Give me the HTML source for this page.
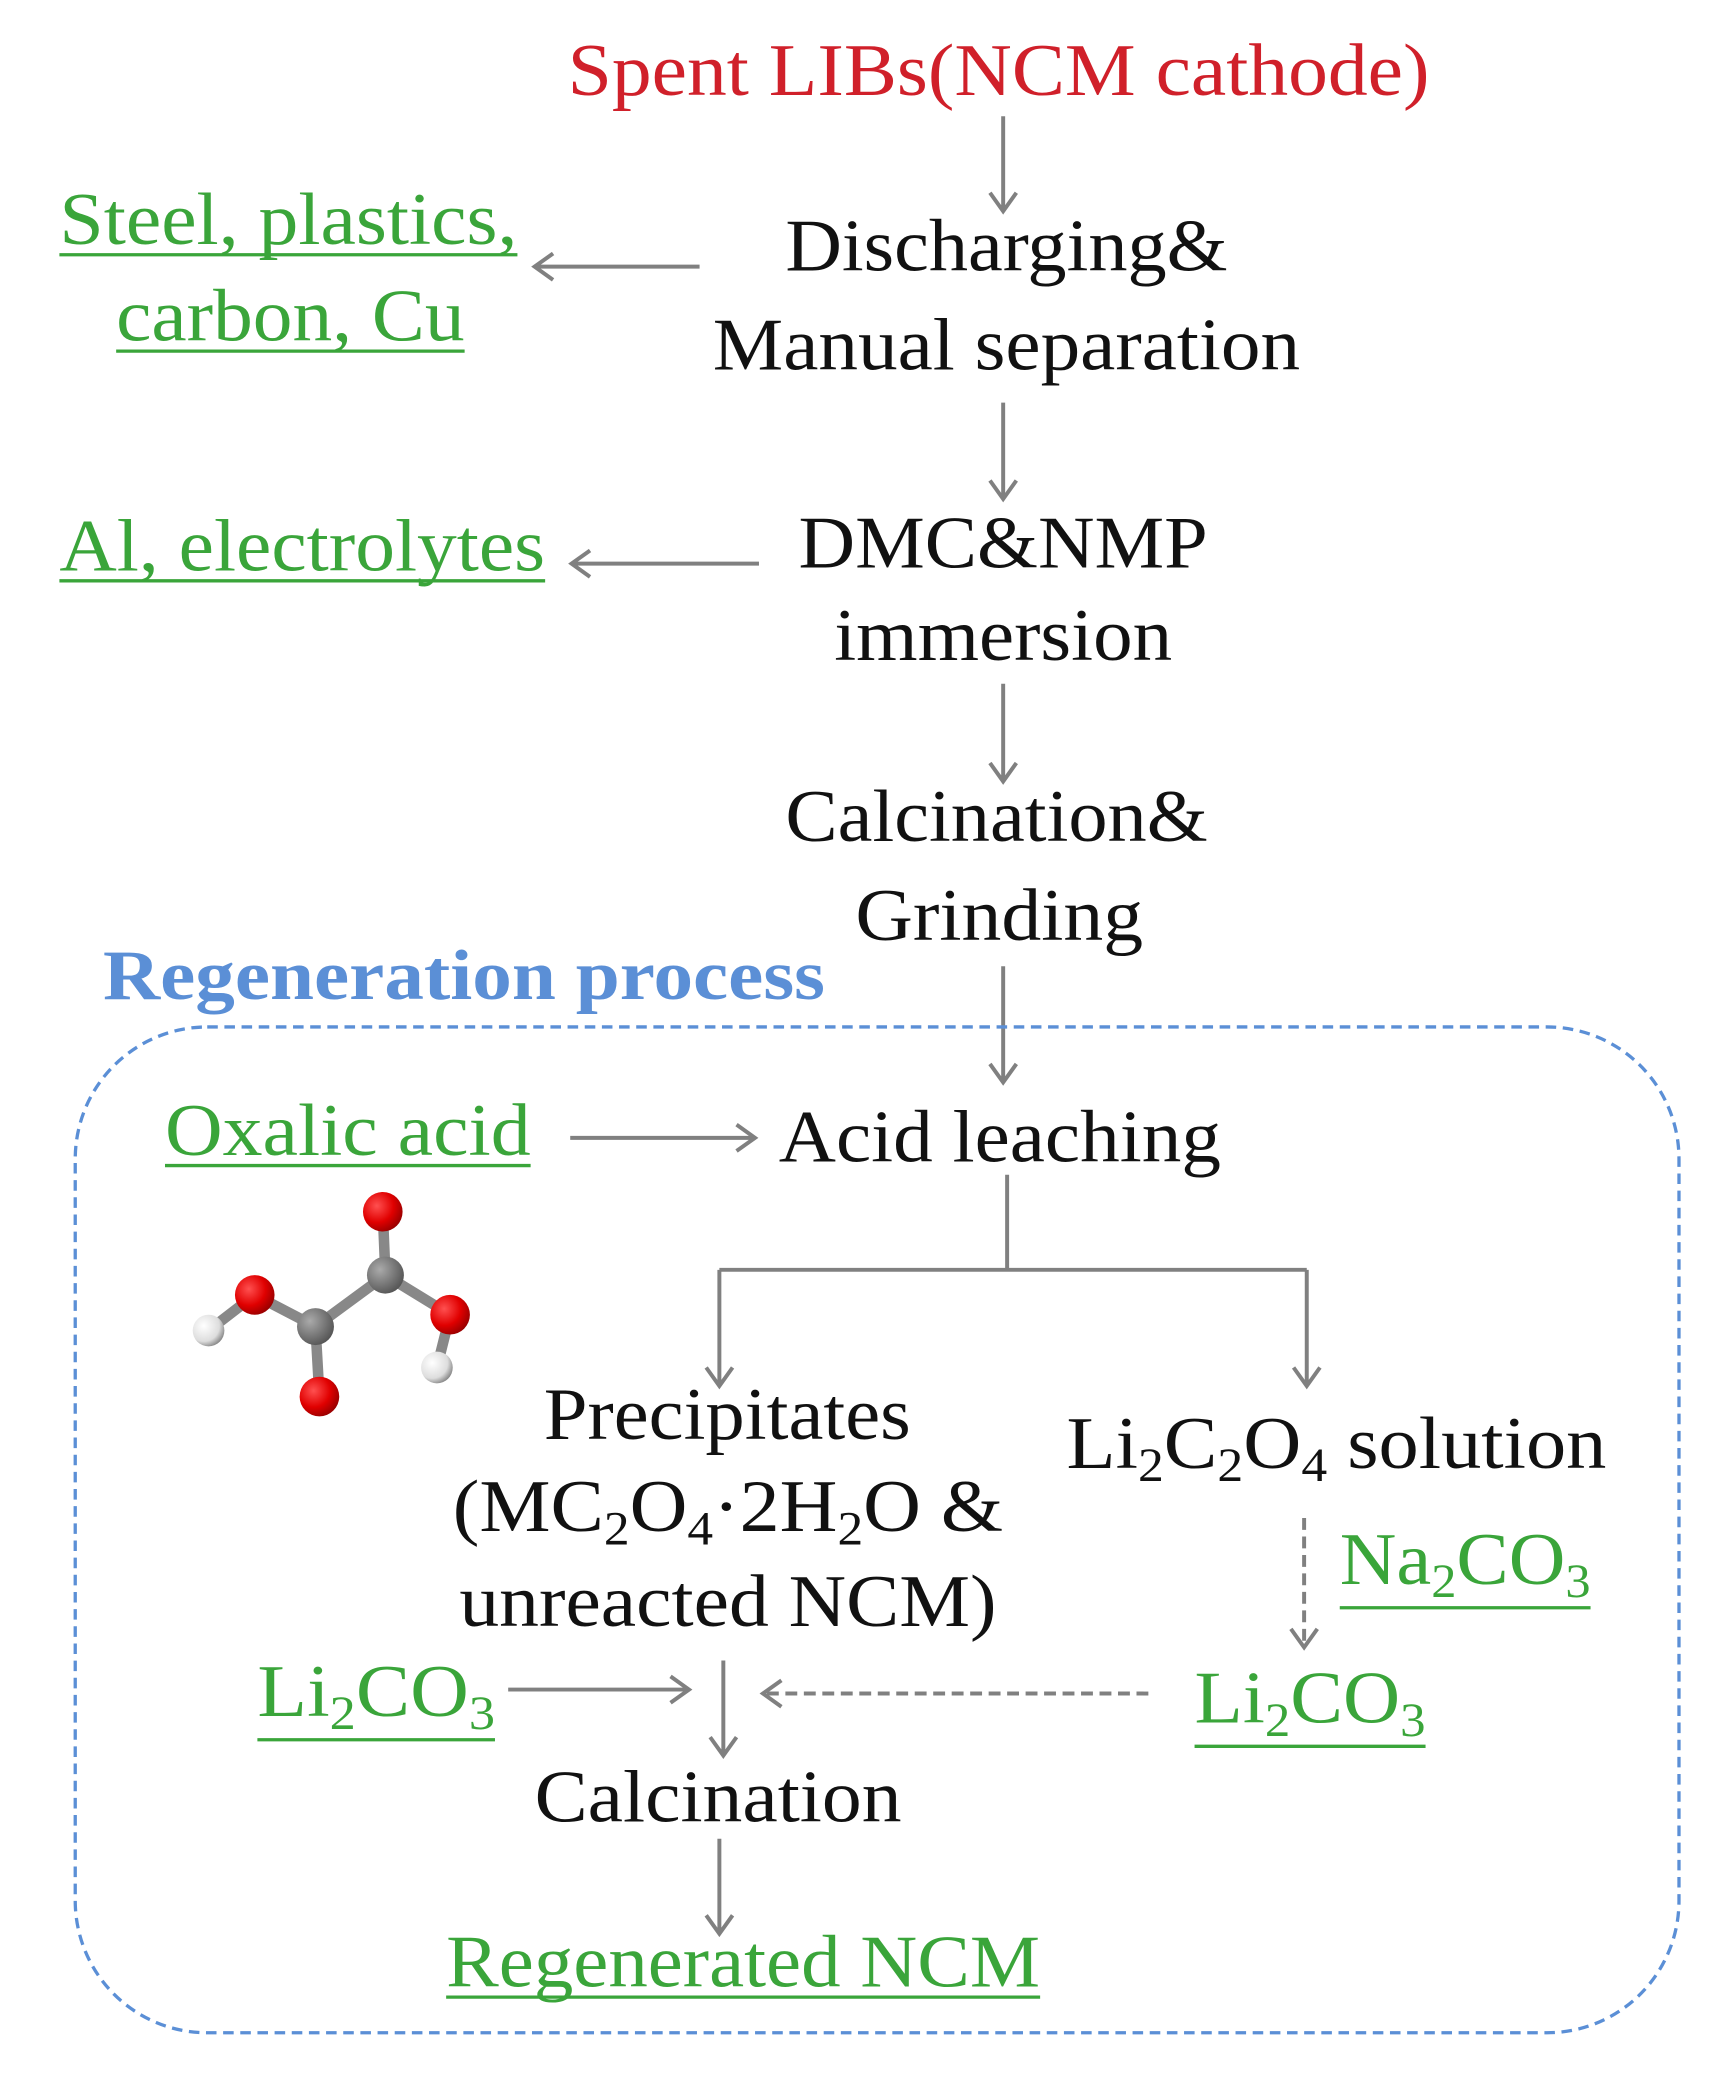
<!DOCTYPE html>
<html><head><meta charset="utf-8"><style>html,body{margin:0;padding:0;background:#fff;}svg{display:block}</style></head>
<body>
<svg width="1717" height="2079" viewBox="0 0 1300.8 1575" xmlns="http://www.w3.org/2000/svg" font-family="Liberation Serif, serif">
<defs>
<radialGradient id="ro" cx="0.35" cy="0.35" r="0.7"><stop offset="0" stop-color="#ff5050"/><stop offset="0.6" stop-color="#e00000"/><stop offset="1" stop-color="#900"/></radialGradient>
<radialGradient id="rc" cx="0.35" cy="0.35" r="0.7"><stop offset="0" stop-color="#aaa"/><stop offset="1" stop-color="#555"/></radialGradient>
<radialGradient id="rh" cx="0.35" cy="0.35" r="0.7"><stop offset="0" stop-color="#fff"/><stop offset="0.7" stop-color="#ddd"/><stop offset="1" stop-color="#888"/></radialGradient>
</defs>
<g stroke="#808080" stroke-width="3" fill="none">
<path d="M760 88V160M750 146L760 160L770 146"/>
<path d="M760 305V378M750 364L760 378L770 364"/>
<path d="M760 518V592M750 578L760 592L770 578"/>
<path d="M760 732V820M750 806L760 820L770 806"/>
<path d="M530 202H405M419 192L405 202L419 212"/>
<path d="M575 427H433M447 417L433 427L447 437"/>
<path d="M432 862H572M558 852L572 862L558 872"/>
<path d="M763 890V962M545 962H990M545 962V1050M990 962V1050M535 1036L545 1050L555 1036M980 1036L990 1050L1000 1036"/>
<path d="M385 1280H522M508 1270L522 1280L508 1290"/>
<path d="M548 1258V1330M538 1316L548 1330L558 1316"/>
<path d="M545 1393V1465M535 1451L545 1465L555 1451"/>
<path d="M870 1283H578" stroke-dasharray="9 5"/>
<path d="M592 1273L578 1283L592 1293"/>
<path d="M988 1150V1248" stroke-dasharray="9 5"/>
<path d="M978 1234L988 1248L998 1234"/>
</g>
<rect x="57" y="778" width="1215" height="762" rx="100" fill="none" stroke="#5b8fd6" stroke-width="2.5" stroke-dasharray="8 5"/>
<g stroke="#888" stroke-width="8" stroke-linecap="round">
<line x1="290" y1="918" x2="292" y2="966"/><line x1="292" y1="966" x2="341" y2="996"/><line x1="341" y1="996" x2="331" y2="1036"/>
<line x1="292" y1="966" x2="239" y2="1005"/><line x1="239" y1="1005" x2="193" y2="981"/><line x1="193" y1="981" x2="158" y2="1008"/><line x1="239" y1="1005" x2="242" y2="1058"/>
</g>
<circle cx="292" cy="966" r="14" fill="url(#rc)"/><circle cx="239" cy="1005" r="14" fill="url(#rc)"/>
<circle cx="290" cy="918" r="15" fill="url(#ro)"/><circle cx="341" cy="996" r="15" fill="url(#ro)"/><circle cx="193" cy="981" r="15" fill="url(#ro)"/><circle cx="242" cy="1058" r="15" fill="url(#ro)"/>
<circle cx="331" cy="1036" r="12" fill="url(#rh)"/><circle cx="158" cy="1008" r="12" fill="url(#rh)"/>
<g font-size="56" fill="#111" lengthAdjust="spacingAndGlyphs">
<text x="430" y="72" fill="#d0202a" textLength="653" lengthAdjust="spacingAndGlyphs">Spent LIBs(NCM cathode)</text>
<text x="595" y="205" textLength="335" lengthAdjust="spacingAndGlyphs">Discharging&amp;</text>
<text x="540" y="280" textLength="445" lengthAdjust="spacingAndGlyphs">Manual separation</text>
<text x="605" y="430" textLength="310" lengthAdjust="spacingAndGlyphs">DMC&amp;NMP</text>
<text x="632" y="500" textLength="256" lengthAdjust="spacingAndGlyphs">immersion</text>
<text x="595" y="637" textLength="320" lengthAdjust="spacingAndGlyphs">Calcination&amp;</text>
<text x="648" y="712" textLength="218" lengthAdjust="spacingAndGlyphs">Grinding</text>
<text x="590" y="880" textLength="335" lengthAdjust="spacingAndGlyphs">Acid leaching</text>
<text x="412" y="1090" textLength="278" lengthAdjust="spacingAndGlyphs">Precipitates</text>
<text x="343" y="1160" textLength="417" lengthAdjust="spacingAndGlyphs">(MC<tspan font-size="36" dy="10">2</tspan><tspan dy="-10">O</tspan><tspan font-size="36" dy="10">4</tspan><tspan dy="-10">·2H</tspan><tspan font-size="36" dy="10">2</tspan><tspan dy="-10">O &amp;</tspan></text>
<text x="348" y="1232" textLength="407" lengthAdjust="spacingAndGlyphs">unreacted NCM)</text>
<text x="808" y="1112" textLength="409" lengthAdjust="spacingAndGlyphs">Li<tspan font-size="36" dy="10">2</tspan><tspan dy="-10">C</tspan><tspan font-size="36" dy="10">2</tspan><tspan dy="-10">O</tspan><tspan font-size="36" dy="10">4</tspan><tspan dy="-10"> solution</tspan></text>
<text x="405" y="1380" textLength="278" lengthAdjust="spacingAndGlyphs">Calcination</text>
</g>
<g font-size="56" fill="#3aa53a">
<text x="45" y="185" textLength="347" lengthAdjust="spacingAndGlyphs">Steel, plastics,</text>
<text x="88" y="258" textLength="264" lengthAdjust="spacingAndGlyphs">carbon, Cu</text>
<text x="45" y="432" textLength="368" lengthAdjust="spacingAndGlyphs">Al, electrolytes</text>
<text x="125" y="875" textLength="277" lengthAdjust="spacingAndGlyphs">Oxalic acid</text>
<text x="1015" y="1200" textLength="190" lengthAdjust="spacingAndGlyphs">Na<tspan font-size="36" dy="10">2</tspan><tspan dy="-10">CO</tspan><tspan font-size="36" dy="10">3</tspan></text>
<text x="195" y="1300" textLength="180" lengthAdjust="spacingAndGlyphs">Li<tspan font-size="36" dy="10">2</tspan><tspan dy="-10">CO</tspan><tspan font-size="36" dy="10">3</tspan></text>
<text x="905" y="1305" textLength="175" lengthAdjust="spacingAndGlyphs">Li<tspan font-size="36" dy="10">2</tspan><tspan dy="-10">CO</tspan><tspan font-size="36" dy="10">3</tspan></text>
<text x="338" y="1505" textLength="450" lengthAdjust="spacingAndGlyphs">Regenerated NCM</text>
</g>
<g stroke="#3aa53a" stroke-width="2.5">
<line x1="45" y1="193" x2="392" y2="193"/><line x1="88" y1="266" x2="352" y2="266"/>
<line x1="45" y1="440" x2="413" y2="440"/><line x1="125" y1="883" x2="402" y2="883"/>
<line x1="1015" y1="1218" x2="1205" y2="1218"/><line x1="195" y1="1318" x2="375" y2="1318"/>
<line x1="905" y1="1323" x2="1080" y2="1323"/><line x1="338" y1="1513" x2="788" y2="1513"/>
</g>
<text x="78" y="757" font-size="54" font-weight="bold" fill="#5b8fd6" textLength="547" lengthAdjust="spacingAndGlyphs">Regeneration process</text>
</svg>
</body></html>
